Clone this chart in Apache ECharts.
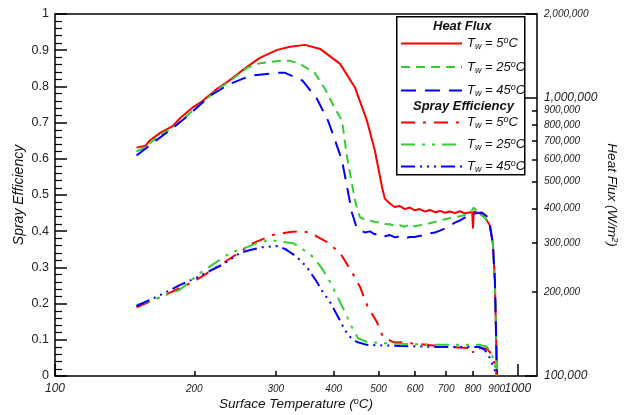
<!DOCTYPE html>
<html>
<head>
<meta charset="utf-8">
<script src="https://cdn.jsdelivr.net/npm/echarts@6/dist/echarts.min.js"></script>
<style>
  body { margin: 0; background: #fff; }
  #chart { width: 628px; height: 415px; }
</style>
</head>
<body>
<div id="chart"></div>
<script>
// tick values (x is log temperature, right axis is log heat flux)
const tempMajor = [100, 1000];
const tempMinor = [200, 300, 400, 500, 600, 700, 800, 900];
const fluxMajor = [100000, 1000000, 2000000];
const fluxMinor = [200000, 300000, 400000, 500000, 600000, 700000, 800000, 900000];

// heat flux [T (C), q (W/m2)]
const hf5 = [
  [150, 662000], [157, 673000], [160, 701000], [169, 749000], [180, 793000], [186, 842000],
  [198, 921000], [206, 960000], [224, 1077000], [239, 1160000], [260, 1291000], [277, 1391000],
  [302, 1486000], [322, 1524000], [347, 1549000], [374, 1498000], [413, 1324000], [445, 1086000],
  [472, 827000], [491, 646000], [509, 476000], [516, 434000], [529, 417000], [542, 405000],
  [556, 408000], [570, 398000], [584, 403000], [599, 394000], [614, 398000], [630, 390000],
  [646, 395000], [662, 388000], [679, 392000], [696, 386000], [713, 390000], [731, 385000],
  [749, 391000], [768, 384000], [788, 388000], [797, 386000], [800, 339000], [803, 390000],
  [828, 384000], [849, 371000], [870, 348000], [883, 300000], [892, 221000], [896, 159000],
  [901, 100000]
];
const hf25 = [
  [150, 640000], [157, 667000], [169, 737000], [180, 780000], [196, 883000], [206, 944000],
  [224, 1068000], [239, 1151000], [260, 1281000], [273, 1324000], [291, 1346000], [306, 1357000],
  [322, 1357000], [338, 1324000], [364, 1229000], [383, 1077000], [403, 913000], [417, 827000],
  [427, 620000], [438, 492000], [445, 427000], [449, 403000], [456, 372000], [467, 365000],
  [479, 362000], [491, 358000], [503, 356000], [516, 352000], [529, 351000], [543, 346000],
  [556, 348000], [570, 344000], [584, 351000], [599, 345000], [614, 348000], [630, 352000],
  [646, 354000], [662, 358000], [679, 362000], [696, 366000], [713, 369000], [731, 372000],
  [749, 375000], [768, 379000], [788, 384000], [803, 403000], [820, 387000], [836, 378000],
  [849, 371000], [870, 350000], [883, 300000], [892, 221000], [896, 159000], [901, 100000]
];
const hf45 = [
  [150, 620000], [163, 690000], [180, 780000], [196, 876000], [216, 1017000], [239, 1122000],
  [264, 1199000], [302, 1229000], [314, 1229000], [343, 1151000], [368, 992000], [389, 827000],
  [403, 701000], [417, 595000], [421, 547000], [434, 420000], [438, 387000], [449, 339000],
  [467, 328000], [479, 331000], [491, 323000], [503, 326000], [516, 318000], [529, 321000],
  [543, 315000], [556, 318000], [570, 312000], [584, 316000], [599, 316000], [614, 319000],
  [630, 320000], [646, 326000], [662, 328000], [679, 333000], [696, 339000], [713, 346000],
  [731, 356000], [749, 362000], [768, 371000], [788, 378000], [808, 384000], [836, 387000],
  [857, 375000], [870, 348000], [883, 300000], [892, 221000], [896, 159000], [901, 100000]
];

// spray efficiency [T (C), efficiency]
const se5 = [
  [150, 0.19], [171, 0.221], [199, 0.26], [231, 0.312], [268, 0.367], [296, 0.39], [322, 0.398],
  [340, 0.4], [355, 0.396], [387, 0.37], [413, 0.34], [438, 0.287], [456, 0.246], [474, 0.191],
  [496, 0.149], [511, 0.108], [537, 0.094], [556, 0.093], [614, 0.088], [703, 0.08], [797, 0.077],
  [800, 0.064], [803, 0.077], [828, 0.077], [857, 0.075], [870, 0.066], [883, 0.052],
  [892, 0.03], [901, 0]
];
const se25 = [
  [150, 0.196], [160, 0.207], [186, 0.238], [206, 0.285], [239, 0.34], [260, 0.356], [273, 0.367],
  [291, 0.376], [311, 0.37], [327, 0.367], [338, 0.356], [361, 0.329], [377, 0.298], [393, 0.26],
  [409, 0.215], [423, 0.177], [438, 0.135], [451, 0.105], [472, 0.094], [503, 0.091], [556, 0.089],
  [679, 0.086], [828, 0.086], [857, 0.081], [870, 0.066], [883, 0.052], [892, 0.03], [901, 0]
];
const se45 = [
  [150, 0.193], [169, 0.224], [186, 0.251], [203, 0.273], [231, 0.309], [251, 0.34], [264, 0.348],
  [281, 0.356], [302, 0.359], [314, 0.351], [333, 0.329], [350, 0.301], [368, 0.26], [379, 0.232],
  [393, 0.204], [409, 0.163], [423, 0.127], [434, 0.108], [449, 0.094], [472, 0.086], [556, 0.083],
  [679, 0.08], [828, 0.08], [849, 0.072], [870, 0.05], [888, 0.022], [901, 0]
];

const FONT = 'Arial, "Liberation Sans", sans-serif';
const RED = '#ff0000', GREEN = '#33cc33', BLUE = '#0000ff';
const lg = Math.log10;
const twOf = { hf5: 5, hf25: 25, hf45: 45, se5: 5, se25: 25, se45: 45 };

function makeSeries(name, data, yIdx, color, dash) {
  return {
    name: name,
    type: 'line',
    xAxisIndex: 0,
    yAxisIndex: yIdx,
    symbol: 'none',
    data: data.map(p => [lg(p[0]), yIdx === 1 ? lg(p[1]) : p[1]]),
    lineStyle: { color: color, width: 2, type: dash },
    itemStyle: { color: color }
  };
}

const supRich = {
  sup: { fontSize: 9, fontStyle: 'italic', fontFamily: FONT, color: '#111', verticalAlign: 'top', padding: [0, 0, 6, 0] },
  sub: { fontSize: 9, fontStyle: 'italic', fontFamily: FONT, color: '#111', verticalAlign: 'bottom', padding: [5, 0, 0, 0] }
};

const legendBase = {
  orient: 'vertical',
  left: 400,
  padding: 0,
  itemWidth: 61,
  itemHeight: 14,
  selectedMode: false,
  z: 5,
  // hide the symbol drawn in the middle of the legend line
  itemStyle: { color: 'transparent', borderColor: 'transparent', borderWidth: 0, opacity: 0 },
  formatter: name => 'T{sub|w} = ' + twOf[name] + '{sup|o}C',
  textStyle: { fontFamily: FONT, fontSize: 13, fontStyle: 'italic', color: '#111', rich: supRich }
};

const myChart = echarts.init(document.getElementById('chart'));
const option = {
  animation: false,
  backgroundColor: '#fff',
  grid: { left: 55, right: 91, top: 14, bottom: 39, outerBoundsMode: 'none', containLabel: false,
    show: true, borderColor: '#000', borderWidth: 1.5 },
  title: [
    { text: 'Heat Flux', left: 433, top: 20, padding: 0,
      textStyle: { fontFamily: FONT, fontSize: 13, fontWeight: 'bold', fontStyle: 'italic', color: '#111' } },
    { text: 'Spray Efficiency', left: 413, top: 100, padding: 0,
      textStyle: { fontFamily: FONT, fontSize: 13, fontWeight: 'bold', fontStyle: 'italic', color: '#111' } }
  ],
  graphic: [
    { type: 'rect', left: 396, top: 16, z: 3, shape: { width: 128, height: 158 },
      style: { fill: '#fff', stroke: '#000', lineWidth: 1.5 } }
  ],
  legend: [
    Object.assign({}, legendBase, { data: ['hf5', 'hf25', 'hf45'], top: 36, itemGap: 8.5 }),
    Object.assign({}, legendBase, { data: ['se5', 'se25', 'se45'], top: 115, itemGap: 7 })
  ],
  xAxis: [
    {
      type: 'value', min: 2, max: lg(1100), position: 'bottom',
      axisLine: { show: false }, splitLine: { show: false },
      axisTick: { inside: true, length: 12, customValues: tempMajor.map(lg), lineStyle: { color: '#000', width: 1.5 } },
      axisLabel: { customValues: tempMajor.map(lg), formatter: v => String(Math.round(Math.pow(10, v))),
        fontFamily: FONT, fontSize: 12, fontStyle: 'italic', color: '#222', margin: 7 },
      name: 'Surface Temperature ({sup|o}C)', nameLocation: 'middle', nameGap: 21, nameMoveOverlap: false,
      nameTextStyle: { fontFamily: FONT, fontSize: 13.5, fontStyle: 'italic', color: '#111', rich: supRich }
    },
    {
      type: 'value', min: 2, max: lg(1100), position: 'bottom',
      axisLine: { show: false }, splitLine: { show: false },
      axisTick: { inside: true, length: 5, customValues: tempMinor.map(lg), lineStyle: { color: '#000', width: 1.5 } },
      axisLabel: { customValues: tempMinor.map(lg), formatter: v => String(Math.round(Math.pow(10, v))),
        fontFamily: FONT, fontSize: 10, fontStyle: 'italic', color: '#222', margin: 8 }
    }
  ],
  yAxis: [
    {
      type: 'value', min: 0, max: 1, interval: 0.1, position: 'left',
      axisLine: { show: false }, splitLine: { show: false },
      axisTick: { inside: true, length: 12, lineStyle: { color: '#000', width: 1.5 } },
      minorTick: { show: true, splitNumber: 5, length: 7, lineStyle: { color: '#000', width: 1.2 } },
      axisLabel: { fontFamily: FONT, fontSize: 12.5, color: '#222', margin: 6 },
      name: 'Spray Efficiency', nameLocation: 'middle', nameGap: 29, nameMoveOverlap: false,
      nameTextStyle: { fontFamily: FONT, fontSize: 14, fontStyle: 'italic', color: '#111' }
    },
    {
      type: 'value', min: 5, max: lg(2000000), position: 'right',
      axisLine: { show: false }, splitLine: { show: false },
      axisTick: { inside: true, length: 12, customValues: fluxMajor.map(lg), lineStyle: { color: '#000', width: 1.5 } },
      axisLabel: {
        customValues: fluxMajor.map(lg), margin: 7,
        formatter: v => {
          const q = Math.round(Math.pow(10, v));
          const s = q.toLocaleString('en-US');
          return q === 2000000 ? '{s|' + s + '}' : '{b|' + s + '}';
        },
        rich: {
          s: { fontFamily: FONT, fontSize: 10, fontStyle: 'italic', color: '#222' },
          b: { fontFamily: FONT, fontSize: 12, fontStyle: 'italic', color: '#222' }
        }
      },
      name: 'Heat Flux (W/m{sup|2})', nameLocation: 'middle', nameGap: 67, nameRotate: -90, nameMoveOverlap: false,
      nameTextStyle: { fontFamily: FONT, fontSize: 13.5, fontStyle: 'italic', color: '#111', rich: supRich }
    },
    {
      type: 'value', min: 5, max: lg(2000000), position: 'right',
      axisLine: { show: false }, splitLine: { show: false },
      axisTick: { inside: true, length: 5, customValues: fluxMinor.map(lg), lineStyle: { color: '#000', width: 1.5 } },
      axisLabel: { customValues: fluxMinor.map(lg), margin: 7,
        formatter: v => Math.round(Math.pow(10, v)).toLocaleString('en-US'),
        fontFamily: FONT, fontSize: 10, fontStyle: 'italic', color: '#222' }
    }
  ],
  series: [
    makeSeries('hf5', hf5, 1, RED, 'solid'),
    makeSeries('hf25', hf25, 1, GREEN, [9, 6]),
    makeSeries('hf45', hf45, 1, BLUE, [15, 9]),
    makeSeries('se5', se5, 0, RED, [14, 8, 3, 8]),
    makeSeries('se25', se25, 0, GREEN, [14, 7, 3, 7, 3, 7]),
    makeSeries('se45', se45, 0, BLUE, [14, 5, 2, 5, 2, 5, 2, 5])
  ]
};
myChart.setOption(option);
</script>
</body>
</html>
